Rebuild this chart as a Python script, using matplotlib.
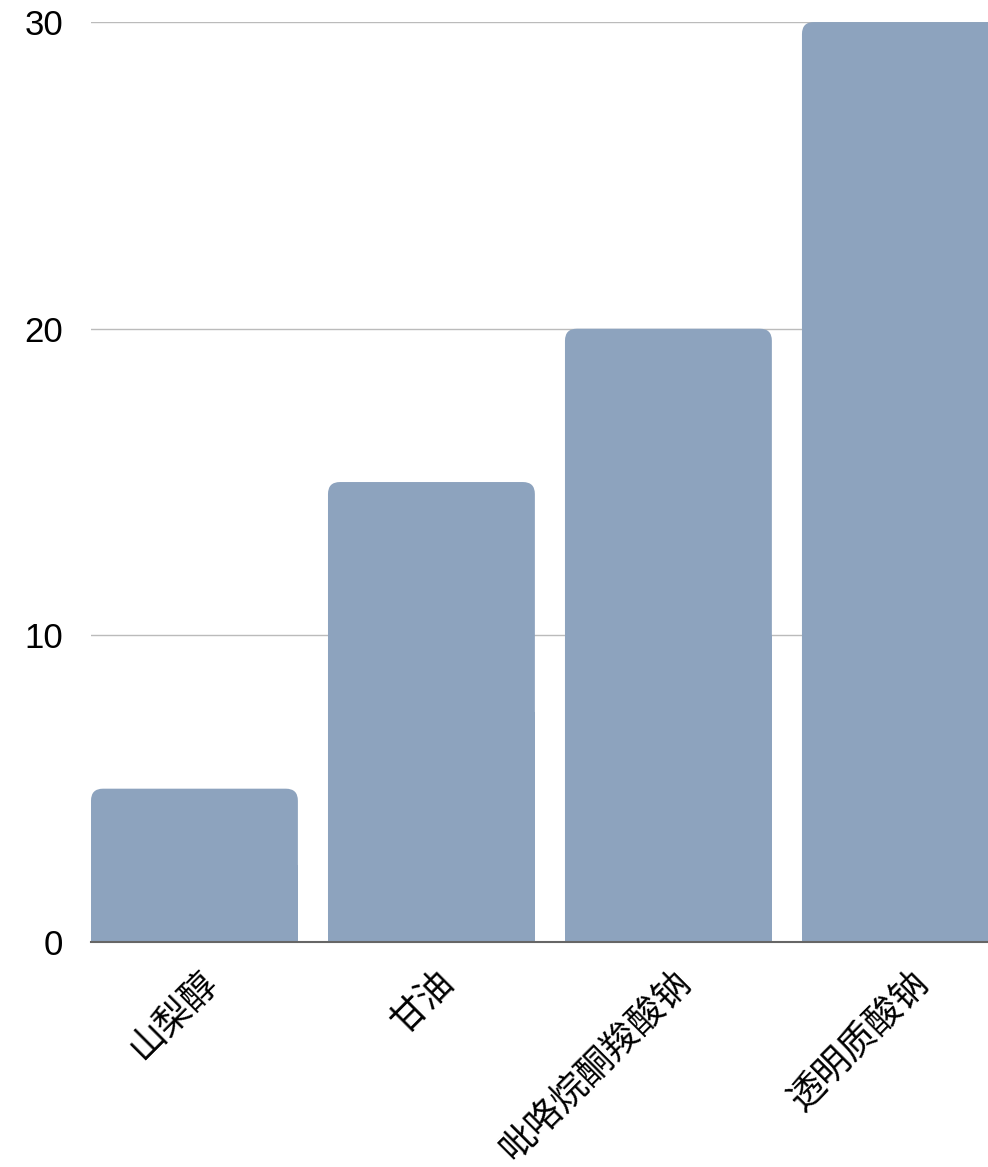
import matplotlib.pyplot as plt
import matplotlib.transforms as mtransforms
from matplotlib.patches import FancyBboxPatch

plt.rcParams['font.family'] = ['Liberation Sans', 'Noto Sans CJK SC', 'DejaVu Sans']

categories = ['山梨醇', '甘油', '吡咯烷酮羧酸钠', '透明质酸钠']
values = [5, 15, 20, 30]
yticks = [0, 10, 20, 30]

BAR_COLOR = '#8da3be'
BAR_W = 0.873

fig = plt.figure(figsize=(9.88, 11.67), dpi=100)
ax = fig.add_axes([0.0921, 0.1928, 0.9079, 0.7883])

ax.set_xlim(0, 3.785)
ax.set_ylim(0, 30)

# rounded top corners: ~12 px radius
rx = 12 / 237
aspect = (12 / (920 / 30)) / rx
for i, v in enumerate(values):
    ax.add_patch(FancyBboxPatch((i, 0), BAR_W, v,
                                boxstyle=f'round,pad=0,rounding_size={rx}',
                                mutation_aspect=aspect, fc=BAR_COLOR, ec='none',
                                zorder=2))
    ax.bar(i, v / 2, width=BAR_W, align='edge', color=BAR_COLOR, zorder=2)

ax.set_yticks(yticks)
ax.set_yticklabels([str(t) for t in yticks], fontsize=25)
ax.tick_params(axis='y', length=0, pad=20)
ax.grid(axis='y', color='#bbbbbb', lw=1, zorder=1)
ax.set_axisbelow(True)

ax.set_xticks([i + BAR_W / 2 for i in range(len(categories))])
ax.set_xticklabels(categories, fontsize=26, rotation=45, ha='right',
                   rotation_mode='anchor',
                   family=['Noto Sans CJK SC', 'DejaVu Sans'])
ax.tick_params(axis='x', length=0, pad=16)
offset = mtransforms.ScaledTranslation(4 / 100, 0, fig.dpi_scale_trans)
for lab in ax.get_xticklabels():
    lab.set_transform(lab.get_transform() + offset)

for s in ['top', 'right', 'left']:
    ax.spines[s].set_visible(False)
ax.spines['bottom'].set_color('#666666')
ax.spines['bottom'].set_linewidth(1.5)
ax.spines['bottom'].set_zorder(3)

fig.savefig('out.png', dpi=100)
plt.close()
